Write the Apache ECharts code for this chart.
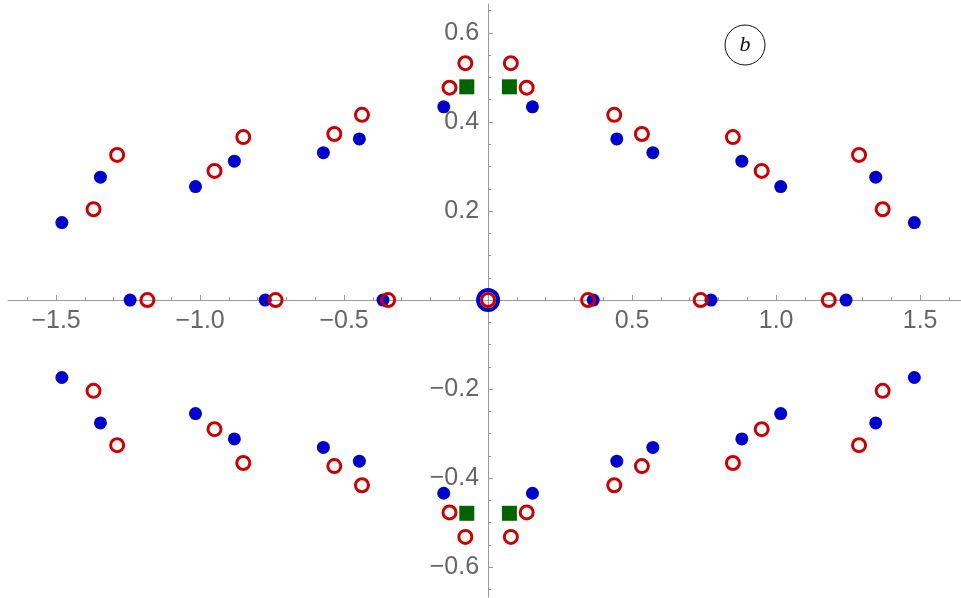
<!DOCTYPE html>
<html>
<head>
<meta charset="utf-8">
<script src="https://cdn.jsdelivr.net/npm/echarts@6/dist/echarts.min.js"></script>
<style>html,body{margin:0;padding:0;background:#fff}#c{width:961px;height:598px}</style>
</head>
<body>
<div id="c"></div>
<script>
// Tick values
const xTickValues = [-1.5, -1.0, -0.5, 0.5, 1.0, 1.5];
const xMinorTickValues = [-1.6, -1.4, -1.3, -1.2, -1.1, -0.9, -0.8, -0.7, -0.6, -0.4, -0.3, -0.2, -0.1,
  0.1, 0.2, 0.3, 0.4, 0.6, 0.7, 0.8, 0.9, 1.1, 1.2, 1.3, 1.4, 1.6];
const yTickValues = [-0.6, -0.4, -0.2, 0.2, 0.4, 0.6];
const yMinorTickValues = [-0.65, -0.55, -0.5, -0.45, -0.35, -0.3, -0.25, -0.15, -0.1, -0.05,
  0.05, 0.1, 0.15, 0.25, 0.3, 0.35, 0.45, 0.5, 0.55, 0.65];

// Axis ranges
const xRange = [-1.667, 1.642];
const yRange = [-0.667, 0.665];

// Blue filled points
const bluePoints = [
  [0.154, 0.434], [0.447, 0.362], [0.572, 0.331], [0.881, 0.312], [1.016, 0.255], [1.346, 0.276], [1.480, 0.174],
  [-0.154, 0.434], [-0.447, 0.362], [-0.572, 0.331], [-0.881, 0.312], [-1.016, 0.255], [-1.346, 0.276], [-1.480, 0.174],
  [0.154, -0.434], [0.447, -0.362], [0.572, -0.331], [0.881, -0.312], [1.016, -0.255], [1.346, -0.276], [1.480, -0.174],
  [-0.154, -0.434], [-0.447, -0.362], [-0.572, -0.331], [-0.881, -0.312], [-1.016, -0.255], [-1.346, -0.276], [-1.480, -0.174],
  [0.365, 0], [0.774, 0], [1.243, 0], [-0.365, 0], [-0.774, 0], [-1.243, 0]
];
// Blue ring at origin
const blueOrigin = [[0, 0]];

// Red open circles
const redPoints = [
  [0.079, 0.532], [0.134, 0.477], [0.438, 0.416], [0.534, 0.373], [0.850, 0.366], [0.950, 0.290], [1.288, 0.326], [1.370, 0.204],
  [-0.079, 0.532], [-0.134, 0.477], [-0.438, 0.416], [-0.534, 0.373], [-0.850, 0.366], [-0.950, 0.290], [-1.288, 0.326], [-1.370, 0.204],
  [0.079, -0.532], [0.134, -0.477], [0.438, -0.416], [0.534, -0.373], [0.850, -0.366], [0.950, -0.290], [1.288, -0.326], [1.370, -0.204],
  [-0.079, -0.532], [-0.134, -0.477], [-0.438, -0.416], [-0.534, -0.373], [-0.850, -0.366], [-0.950, -0.290], [-1.288, -0.326], [-1.370, -0.204],
  [0.347, 0], [0.738, 0], [1.183, 0], [-0.347, 0], [-0.738, 0], [-1.183, 0], [0, 0]
];

// Green squares
const greenPoints = [[0.074, 0.479], [-0.074, 0.479], [0.074, -0.479], [-0.074, -0.479]];

const W = 961, H = 598;
const G = { left: 8, right: 0, top: 4, bottom: 1 };
const gw = W - G.left - G.right, gh = H - G.top - G.bottom;
// distances from grid edges to the zero lines (axes cross at origin)
const zeroFromBottom = gh * (0 - yRange[0]) / (yRange[1] - yRange[0]);
const zeroFromTop = gh - zeroFromBottom;
const zeroFromLeft = gw * (0 - xRange[0]) / (xRange[1] - xRange[0]);
const zeroFromRight = gw - zeroFromLeft;

const fmt = v => (v < 0 ? '\u2212' : '') + Math.abs(v).toFixed(1);
const AX = '#9a9a9a';
const LBL = { color: '#666666', fontSize: 25, fontFamily: '"Liberation Sans", Arial, sans-serif' };

const chart = echarts.init(document.getElementById('c'), null, { renderer: 'canvas' });
chart.setOption({
  animation: false,
  backgroundColor: '#ffffff',
  grid: Object.assign({ containLabel: false, outerBoundsMode: 'none' }, G),
  xAxis: [
    {
      type: 'value', position: 'bottom', offset: -zeroFromBottom, min: xRange[0], max: xRange[1],
      axisLine: { show: true, onZero: false, lineStyle: { color: AX, width: 1 } },
      axisTick: { show: true, inside: true, length: 5, customValues: xTickValues, lineStyle: { color: AX } },
      axisLabel: Object.assign({ show: true, margin: 9, customValues: xTickValues, formatter: fmt }, LBL),
      splitLine: { show: false }
    },
    {
      type: 'value', position: 'top', offset: -zeroFromTop, min: xRange[0], max: xRange[1],
      axisLine: { show: false, onZero: false },
      axisTick: { show: true, inside: false, length: 3, customValues: xMinorTickValues, lineStyle: { color: AX } },
      axisLabel: { show: false },
      splitLine: { show: false }
    }
  ],
  yAxis: [
    {
      type: 'value', position: 'left', offset: -zeroFromLeft, min: yRange[0], max: yRange[1],
      axisLine: { show: true, onZero: false, lineStyle: { color: AX, width: 1 } },
      axisTick: { show: true, inside: true, length: 5, customValues: yTickValues, lineStyle: { color: AX } },
      axisLabel: Object.assign({ show: true, margin: 9, customValues: yTickValues, formatter: fmt }, LBL),
      splitLine: { show: false }
    },
    {
      type: 'value', position: 'right', offset: -zeroFromRight, min: yRange[0], max: yRange[1],
      axisLine: { show: false, onZero: false },
      axisTick: { show: true, inside: false, length: 3, customValues: yMinorTickValues, lineStyle: { color: AX } },
      axisLabel: { show: false },
      splitLine: { show: false }
    }
  ],
  series: [
    {
      type: 'scatter', data: bluePoints, xAxisIndex: 0, yAxisIndex: 0,
      symbol: 'circle', symbolSize: 13,
      itemStyle: { color: '#0000cc', opacity: 1 }
    },
    {
      type: 'scatter', data: blueOrigin, xAxisIndex: 0, yAxisIndex: 0,
      symbol: 'circle', symbolSize: 20,
      itemStyle: { color: 'rgba(0,0,0,0)', borderColor: '#0000cc', borderWidth: 4, opacity: 1 }
    },
    {
      type: 'scatter', data: redPoints, xAxisIndex: 0, yAxisIndex: 0,
      symbol: 'circle', symbolSize: 13,
      itemStyle: { color: 'rgba(0,0,0,0)', borderColor: '#cc0000', borderWidth: 3, opacity: 1 }
    },
    {
      type: 'scatter', data: greenPoints, xAxisIndex: 0, yAxisIndex: 0,
      symbol: 'rect', symbolSize: 15,
      itemStyle: { color: '#006400', opacity: 1 }
    }
  ],
  graphic: [
    { type: 'circle', shape: { cx: 745, cy: 45, r: 20 }, style: { fill: 'none', stroke: '#111', lineWidth: 1 } },
    { type: 'text', x: 745, y: 45, style: { text: 'b', font: 'italic 22px "Liberation Serif", "DejaVu Serif", serif', fill: '#111', align: 'center', verticalAlign: 'middle' } }
  ]
});
</script>
</body>
</html>
